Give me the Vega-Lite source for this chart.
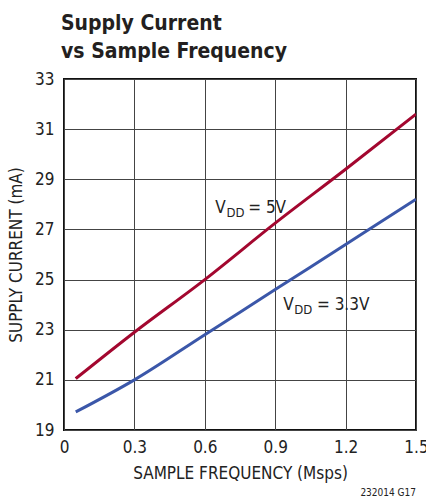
{
  "$schema": "https://vega.github.io/schema/vega-lite/v6.json",
  "width": 352,
  "height": 351,
  "autosize": "none",
  "padding": {"left": 64, "top": 79, "right": 10, "bottom": 68},
  "background": "white",
  "config": {
    "font": "DejaVu Sans Condensed",
    "view": {"stroke": "#111", "strokeWidth": 2},
    "axis": {
      "labelFont": "DejaVu Sans Condensed",
      "titleFont": "DejaVu Sans Condensed",
      "labelFontSize": 17,
      "titleFontSize": 17,
      "labelColor": "#222",
      "titleColor": "#222",
      "titleFontWeight": "normal",
      "ticks": false,
      "domain": false,
      "gridColor": "#444",
      "gridWidth": 1,
      "gridOpacity": 1
    }
  },
  "title": {
    "text": ["Supply Current", "vs Sample Frequency"],
    "anchor": "start",
    "frame": "group",
    "dx": -3,
    "offset": 8,
    "font": "DejaVu Sans Condensed",
    "fontSize": 21,
    "fontWeight": "bold",
    "lineHeight": 28,
    "color": "#231f20"
  },
  "datasets": {
    "curves": [
      {"vdd": "5V", "f": 0.05, "i": 21.05},
      {"vdd": "5V", "f": 0.3, "i": 22.9},
      {"vdd": "5V", "f": 0.6, "i": 25.0},
      {"vdd": "5V", "f": 0.9, "i": 27.25},
      {"vdd": "5V", "f": 1.2, "i": 29.4},
      {"vdd": "5V", "f": 1.5, "i": 31.6},
      {"vdd": "3.3V", "f": 0.05, "i": 19.72},
      {"vdd": "3.3V", "f": 0.3, "i": 21.0},
      {"vdd": "3.3V", "f": 0.6, "i": 22.8},
      {"vdd": "3.3V", "f": 0.9, "i": 24.6},
      {"vdd": "3.3V", "f": 1.2, "i": 26.4},
      {"vdd": "3.3V", "f": 1.5, "i": 28.2}
    ],
    "labels": [
      {"t": "V", "x": 0.645, "y": 27.65},
      {"t": "= 5V", "x": 0.785, "y": 27.65},
      {"t": "V", "x": 0.934, "y": 23.8},
      {"t": "= 3.3V", "x": 1.078, "y": 23.8}
    ],
    "subs": [
      {"t": "DD", "x": 0.692, "y": 27.65},
      {"t": "DD", "x": 0.981, "y": 23.8}
    ]
  },
  "layer": [
    {
      "data": {"name": "curves"},
      "mark": {"type": "line", "interpolate": "monotone", "strokeWidth": 3, "clip": true},
      "encoding": {
        "x": {
          "field": "f",
          "type": "quantitative",
          "scale": {"domain": [0, 1.5], "nice": false},
          "axis": {
            "values": [0, 0.3, 0.6, 0.9, 1.2, 1.5],
            "labelExpr": "datum.value == 0 ? '0' : format(datum.value, '.1f')",
            "title": "SAMPLE FREQUENCY (Msps)",
            "labelPadding": 9,
            "titlePadding": 10,
            "labelFlush": false
          }
        },
        "y": {
          "field": "i",
          "type": "quantitative",
          "scale": {"domain": [19, 33], "nice": false, "zero": false},
          "axis": {
            "values": [19, 21, 23, 25, 27, 29, 31, 33],
            "title": "SUPPLY CURRENT (mA)",
            "labelPadding": 10,
            "titlePadding": 9,
            "labelFlush": false
          }
        },
        "color": {
          "field": "vdd",
          "type": "nominal",
          "scale": {"domain": ["5V", "3.3V"], "range": ["#a3072f", "#3b57a9"]},
          "legend": null
        }
      }
    },
    {
      "data": {"name": "labels"},
      "mark": {"type": "text", "align": "left", "baseline": "alphabetic", "fontSize": 17, "color": "#222"},
      "encoding": {
        "x": {"field": "x", "type": "quantitative"},
        "y": {"field": "y", "type": "quantitative"},
        "text": {"field": "t"}
      }
    },
    {
      "data": {"name": "subs"},
      "mark": {"type": "text", "align": "left", "baseline": "alphabetic", "fontSize": 13, "dy": 4, "color": "#222"},
      "encoding": {
        "x": {"field": "x", "type": "quantitative"},
        "y": {"field": "y", "type": "quantitative"},
        "text": {"field": "t"}
      }
    },
    {
      "data": {"values": [{"t": "232014 G17", "x": 1.5, "y": 19}]},
      "mark": {"type": "text", "align": "right", "baseline": "alphabetic", "fontSize": 10, "dy": 66, "color": "#222"},
      "encoding": {
        "x": {"field": "x", "type": "quantitative"},
        "y": {"field": "y", "type": "quantitative"},
        "text": {"field": "t"}
      }
    }
  ]
}
